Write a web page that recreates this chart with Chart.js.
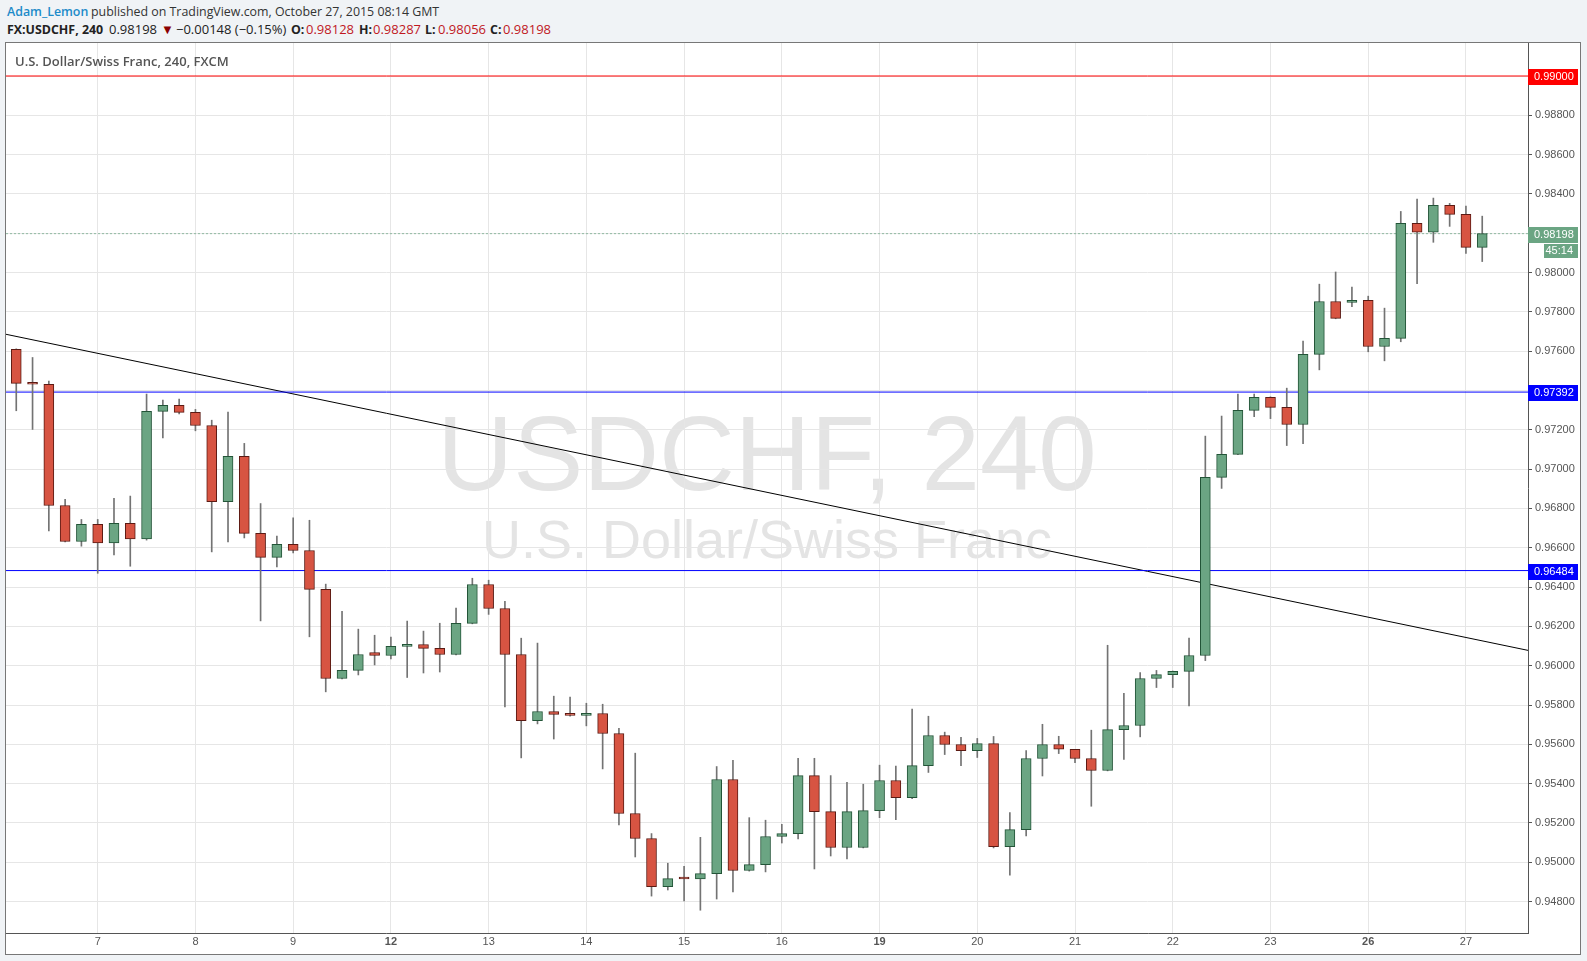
<!DOCTYPE html>
<html>
<head>
<meta charset="utf-8">
<title>USDCHF, 240</title>
<script src="https://cdn.jsdelivr.net/npm/chart.js"></script>
<style>
  body { margin: 0; background: #f0f3f6; width: 1587px; height: 961px; overflow: hidden; font-family: "Open Sans", sans-serif; }
  .hdr { position: absolute; font-size: 13px; line-height: 17px; white-space: nowrap; }
  .hdr span { position: absolute; top: 0; }
  .hdr1 { left: 0; top: 3px; color: #333; }
  .hdr1 .user { color: #1d8bc9; font-weight: 600; font-size: 12.4px; }
  .hdr1 .rest { font-size: 12.4px; }
  .hdr2 { left: 0; top: 21px; color: #222; }
  .hdr2 .b { font-weight: 700; font-size: 12.4px; }
  .hdr2 .r { color: #c0181f; }
  .hdr2 .dn { color: #8b0000; font-size: 13px; }
  #frame { position: absolute; left: 5px; top: 42px; width: 1574px; height: 911px; border: 1px solid #777; background: #fff; }
  #chart { position: absolute; left: 0; top: 0; }
  #title { position: absolute; left: 9px; top: 10px; font-size: 13px; font-weight: 600; color: #555; line-height: 17px; white-space: nowrap; }
</style>
</head>
<body>
<div class="hdr hdr1">
  <span class="user" style="left:7px">Adam_Lemon</span>
  <span class="rest" style="left:91px">published on TradingView.com, October 27, 2015 08:14 GMT</span>
</div>
<div class="hdr hdr2">
  <span class="b" style="left:7px">FX:USDCHF, 240</span>
  <span style="left:109px">0.98198</span>
  <span class="dn" style="left:161px">▼</span>
  <span style="left:176px">−0.00148 (−0.15%)</span>
  <span class="b" style="left:291px">O:</span><span class="r" style="left:306px">0.98128</span>
  <span class="b" style="left:359px">H:</span><span class="r" style="left:373px">0.98287</span>
  <span class="b" style="left:425px">L:</span><span class="r" style="left:438px">0.98056</span>
  <span class="b" style="left:490px">C:</span><span class="r" style="left:503px">0.98198</span>
</div>
<div id="frame">
  <canvas id="chart" width="1574" height="911"></canvas>
  <div id="title">U.S. Dollar/Swiss Franc, 240, FXCM</div>
</div>
<script>
// 4H candles, Oct 6 04:00 .. Oct 27 04:00
const opens  = [0.97609, 0.97436, 0.97431, 0.96815, 0.96632, 0.96719, 0.96625, 0.96724, 0.96645, 0.97294,
                0.97324, 0.97289, 0.97222, 0.96834, 0.97065, 0.96673, 0.96551, 0.96617, 0.96586, 0.96388,
                0.95935, 0.95976, 0.96067, 0.96052, 0.96098, 0.96108, 0.96088, 0.96057, 0.96215, 0.96413,
                0.96291, 0.96057, 0.95721, 0.95767, 0.95750, 0.95747, 0.95757, 0.95655, 0.95248, 0.95121,
                0.94876, 0.94917, 0.94915, 0.94942, 0.95421, 0.94958, 0.94988, 0.95131, 0.95146, 0.95441,
                0.95258, 0.95075, 0.95075, 0.95263, 0.95416, 0.95329, 0.95492, 0.95645, 0.95599, 0.95568,
                0.95604, 0.95080, 0.95166, 0.95528, 0.95599, 0.95574, 0.95528, 0.95467, 0.95675, 0.95696,
                0.95935, 0.95955, 0.95971, 0.96052, 0.96958, 0.97075, 0.97299, 0.97365, 0.97314, 0.97227,
                0.97584, 0.97853, 0.97848, 0.97859, 0.97624, 0.97665, 0.98250, 0.98205, 0.98342, 0.98296,
                0.98128];
const highs  = [0.97612, 0.97568, 0.97448, 0.96846, 0.96744, 0.96744, 0.96852, 0.96863, 0.97382, 0.97351,
                0.97356, 0.97304, 0.97249, 0.97290, 0.97131, 0.96825, 0.96659, 0.96752, 0.96740, 0.96415,
                0.96277, 0.96186, 0.96155, 0.96145, 0.96227, 0.96176, 0.96216, 0.96293, 0.96445, 0.96435,
                0.96328, 0.96140, 0.96115, 0.95845, 0.95840, 0.95809, 0.95804, 0.95682, 0.95555, 0.95146,
                0.94995, 0.94980, 0.95127, 0.95487, 0.95519, 0.95227, 0.95214, 0.95193, 0.95529, 0.95529,
                0.95441, 0.95407, 0.95397, 0.95494, 0.95489, 0.95779, 0.95743, 0.95662, 0.95636, 0.95630,
                0.95640, 0.95253, 0.95568, 0.95702, 0.95641, 0.95575, 0.95672, 0.96104, 0.95860, 0.95965,
                0.95976, 0.95973, 0.96140, 0.97168, 0.97270, 0.97382, 0.97382, 0.97368, 0.97412, 0.97651,
                0.97941, 0.98003, 0.97926, 0.97880, 0.97819, 0.98311, 0.98374, 0.98379, 0.98352, 0.98338,
                0.98287];
const lows   = [0.97297, 0.97202, 0.96686, 0.96630, 0.96608, 0.96470, 0.96564, 0.96506, 0.96639, 0.97159,
                0.97281, 0.97195, 0.96579, 0.96630, 0.96650, 0.96228, 0.96503, 0.96574, 0.96147, 0.95867,
                0.95933, 0.95953, 0.96004, 0.96035, 0.95940, 0.95963, 0.95968, 0.96055, 0.96213, 0.96261,
                0.95790, 0.95531, 0.95704, 0.95627, 0.95743, 0.95694, 0.95475, 0.95190, 0.95027, 0.94828,
                0.94859, 0.94803, 0.94756, 0.94813, 0.94849, 0.94955, 0.94951, 0.95098, 0.95119, 0.94966,
                0.95032, 0.95017, 0.95073, 0.95227, 0.95217, 0.95324, 0.95457, 0.95548, 0.95492, 0.95533,
                0.95073, 0.94935, 0.95134, 0.95439, 0.95553, 0.95507, 0.95285, 0.95465, 0.95523, 0.95638,
                0.95889, 0.95889, 0.95795, 0.96026, 0.96902, 0.97073, 0.97267, 0.97257, 0.97120, 0.97129,
                0.97505, 0.97765, 0.97826, 0.97597, 0.97551, 0.97648, 0.97943, 0.98154, 0.98235, 0.98098,
                0.98056];
const closes = [0.97436, 0.97432, 0.96815, 0.96632, 0.96719, 0.96625, 0.96724, 0.96645, 0.97294, 0.97324,
                0.97289, 0.97222, 0.96834, 0.97065, 0.96673, 0.96551, 0.96617, 0.96586, 0.96388, 0.95935,
                0.95976, 0.96057, 0.96052, 0.96098, 0.96108, 0.96088, 0.96057, 0.96215, 0.96413, 0.96291,
                0.96057, 0.95721, 0.95767, 0.95752, 0.95747, 0.95757, 0.95655, 0.95248, 0.95121, 0.94876,
                0.94917, 0.94915, 0.94942, 0.95421, 0.94958, 0.94988, 0.95131, 0.95146, 0.95441, 0.95258,
                0.95075, 0.95258, 0.95263, 0.95416, 0.95329, 0.95492, 0.95645, 0.95599, 0.95568, 0.95604,
                0.95080, 0.95166, 0.95528, 0.95599, 0.95575, 0.95528, 0.95467, 0.95675, 0.95696, 0.95935,
                0.95955, 0.95971, 0.96052, 0.96958, 0.97075, 0.97299, 0.97365, 0.97314, 0.97227, 0.97584,
                0.97853, 0.97767, 0.97859, 0.97624, 0.97665, 0.98250, 0.98205, 0.98342, 0.98296, 0.98128,
                0.98198];

// first candle of each day and its label
const dayStarts = [5, 11, 17, 23, 29, 35, 41, 47, 53, 59, 65, 71, 77, 83, 89];
const dayLabels = ['7', '8', '9', '12', '13', '14', '15', '16', '19', '20', '21', '22', '23', '26', '27'];
const weekStarts = ['12', '19', '26'];

const priceTicks = [0.948, 0.950, 0.952, 0.954, 0.956, 0.958, 0.960, 0.962, 0.964, 0.966, 0.968,
                    0.970, 0.972, 0.974, 0.976, 0.978, 0.980, 0.982, 0.984, 0.986, 0.988, 0.990];

// horizontal levels drawn on the chart + last price
const levelValues = [0.99000, 0.97392, 0.96484];
const levelLabels = ['0.99000', '0.97392', '0.96484'];
const levelColors = ['#ff0000', '#0000ff', '#0000ff'];
const lastPrice = 0.98198;
const lastLabel = '0.98198';
const countdown = '45:14';

// trend line anchors (bar index, price)
const trendX = [-0.63, 92.81];
const trendY = [0.97686, 0.96078];

const xMin = -0.63, xMax = 92.81;
const yMin = 0.946402, yMax = 0.991679;

const GREEN = '#6ba583', GREEN_EDGE = '#225437';
const RED = '#d75442', RED_EDGE = '#5b1a13';

const isUp = closes.map((c, i) => c >= opens[i]);

const hLine = (v, color, dash) => ({
  type: 'line',
  data: [{x: xMin, y: v}, {x: xMax, y: v}],
  borderColor: color,
  borderWidth: 1,
  borderDash: dash || [],
  pointRadius: 0,
  order: 3
});

const watermark = {
  id: 'watermark',
  beforeDraw(chart) {
    const {ctx, chartArea: a} = chart;
    const cx = (a.left + a.right) / 2;
    const cy = (a.top + a.bottom) / 2;
    ctx.save();
    ctx.textAlign = 'center';
    ctx.textBaseline = 'alphabetic';
    ctx.fillStyle = '#e4e4e4';
    ctx.font = '105px "Liberation Sans"';
    ctx.fillText('USDCHF, 240', cx, cy + 2);
    ctx.font = '54px "Liberation Sans"';
    ctx.fillText('U.S. Dollar/Swiss Franc', cx, cy + 70);
    ctx.restore();
  }
};

const axisBoxes = {
  id: 'axisBoxes',
  afterDraw(chart) {
    const {ctx} = chart;
    const y = chart.scales.y;
    const w = y.right - y.left - 2;
    ctx.save();
    ctx.font = '11px "Liberation Sans"';
    ctx.textBaseline = 'middle';
    const box = (v, text, color) => {
      const py = y.getPixelForValue(v);
      ctx.fillStyle = color;
      ctx.fillRect(y.left, Math.round(py) - 7, w, 16);
      ctx.fillStyle = '#fff';
      ctx.textAlign = 'left';
      ctx.fillText(text, y.left + 6, Math.round(py) + 1);
      return py;
    };
    levelValues.forEach((v, k) => box(v, levelLabels[k], levelColors[k]));
    const py = box(lastPrice, lastLabel, GREEN);
    ctx.fillStyle = GREEN;
    ctx.fillRect(y.left + 16, Math.round(py) + 10, w - 16, 14);
    ctx.fillStyle = '#fff';
    ctx.textAlign = 'right';
    ctx.fillText(countdown, y.right - 7, Math.round(py) + 17);
    ctx.restore();
  }
};

Chart.defaults.font.family = '"Liberation Sans", Arial, sans-serif';
Chart.defaults.font.size = 11;
Chart.defaults.color = '#555';

new Chart(document.getElementById('chart'), {
  type: 'bar',
  data: {
    datasets: [
      hLine(levelValues[0], levelColors[0]),
      hLine(levelValues[1], levelColors[1]),
      hLine(levelValues[2], levelColors[2]),
      hLine(lastPrice, 'rgba(107,165,131,0.7)', [2, 2]),
      {
        type: 'line',
        data: trendX.map((x, k) => ({x: x, y: trendY[k]})),
        borderColor: '#000',
        borderWidth: 1,
        pointRadius: 0,
        order: 3
      },
      {
        label: 'wicks',
        data: lows.map((l, i) => ({x: i, y: [l, highs[i]]})),
        backgroundColor: '#737373',
        borderWidth: 0,
        barThickness: 1,
        grouped: false,
        order: 2
      },
      {
        label: 'bodies',
        data: opens.map((o, i) => ({x: i, y: [o, closes[i]]})),
        backgroundColor: isUp.map(u => u ? GREEN : RED),
        borderColor: isUp.map(u => u ? GREEN_EDGE : RED_EDGE),
        borderWidth: 1,
        borderSkipped: false,
        barThickness: 10,
        minBarLength: 2,
        grouped: false,
        order: 1
      }
    ]
  },
  options: {
    responsive: false,
    animation: false,
    events: [],
    devicePixelRatio: 1,
    layout: { padding: 0, autoPadding: false },
    plugins: { legend: { display: false }, tooltip: { enabled: false } },
    scales: {
      x: {
        type: 'linear',
        min: xMin,
        max: xMax,
        offset: false,
        grid: { color: '#e6e6e6', drawTicks: false, offset: false },
        border: { color: '#555' },
        afterBuildTicks: s => { s.ticks = dayStarts.map(v => ({value: v})); },
        afterFit: s => { s.height = 21; s.paddingLeft = 0; s.paddingRight = 0; },
        ticks: {
          autoSkip: false,
          maxRotation: 0,
          padding: 2,
          callback: v => dayLabels[dayStarts.indexOf(v)],
          font: c => ({ size: 11, weight: (c.tick && weekStarts.includes(c.tick.label)) ? 'bold' : 'normal' })
        }
      },
      y: {
        type: 'linear',
        position: 'right',
        min: yMin,
        max: yMax,
        grid: { color: '#e6e6e6', tickLength: 4, tickColor: '#555' },
        border: { color: '#555' },
        afterBuildTicks: s => { s.ticks = priceTicks.map(v => ({value: v})); },
        afterFit: s => { s.width = 52; s.paddingTop = 0; s.paddingBottom = 0; },
        ticks: { padding: 3, callback: v => v.toFixed(5) }
      }
    }
  },
  plugins: [watermark, axisBoxes]
});
</script>
</body>
</html>
